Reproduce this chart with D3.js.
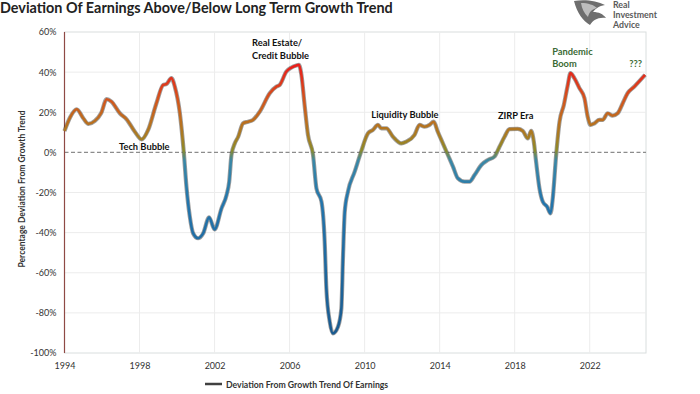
<!DOCTYPE html>
<html>
<head>
<meta charset="utf-8">
<script src="https://cdn.jsdelivr.net/npm/d3@7"></script>
<style>
  body { margin: 0; background: #fff; }
  svg { display: block; font-family: Lato, "Open Sans", sans-serif; }
</style>
</head>
<body>
<svg id="chart" width="700" height="394"></svg>
<script>
// decimal years and deviation (%)
const years = [1994.0, 1994.3, 1994.65, 1995.0, 1995.27, 1995.62, 1995.95, 1996.25, 1996.5, 1996.95, 1997.31, 1997.75,
  1998.11, 1998.46, 1998.9, 1999.26, 1999.44, 1999.7, 1999.88, 2000.15, 2000.36, 2000.5, 2000.68, 2000.86,
  2001.12, 2001.39, 2001.71, 2002.0, 2002.37, 2002.64, 2002.78, 2002.9, 2003.08, 2003.26, 2003.52, 2003.79,
  2004.05, 2004.41, 2004.94, 2005.3, 2005.47, 2005.83, 2006.1, 2006.36, 2006.5, 2006.63, 2006.8, 2006.98,
  2007.25, 2007.43, 2007.7, 2007.87, 2007.96, 2008.14, 2008.31, 2008.58, 2008.76, 2008.85, 2008.94, 2009.11,
  2009.47, 2009.8, 2010.18, 2010.44, 2010.71, 2010.89, 2011.16, 2011.51, 2011.95, 2012.22, 2012.66, 2012.93,
  2013.2, 2013.46, 2013.68, 2013.9, 2014.17, 2014.44, 2014.71, 2014.97, 2015.33, 2015.59, 2015.86, 2016.22,
  2016.57, 2016.92, 2017.19, 2017.46, 2017.72, 2018.16, 2018.43, 2018.7, 2018.88, 2019.02, 2019.14, 2019.32,
  2019.5, 2019.73, 2019.91, 2020.03, 2020.21, 2020.39, 2020.62, 2020.83, 2020.97, 2021.18, 2021.45, 2021.72,
  2021.89, 2022.04, 2022.25, 2022.51, 2022.69, 2022.96, 2023.22, 2023.49, 2023.76, 2024.02, 2024.38, 2024.95];
const values = [10.7, 17.5, 21.5, 17.0, 14.2, 15.7, 19.5, 26.5, 25.3, 19.5, 16.5, 10.3,
  6.5, 11.2, 24.5, 33.6, 34.1, 37.0, 32.8, 19.5, 0.0, -17.0, -32.0, -40.4,
  -42.8, -40.4, -32.4, -38.4, -27.9, -21.2, -14.6, -1.3, 4.5, 7.8, 14.5, 15.3,
  16.2, 20.3, 29.5, 32.8, 33.6, 40.3, 42.3, 43.3, 43.6, 38.6, 23.6, 8.7,
  -1.3, -17.9, -24.6, -44.5, -67.8, -84.4, -90.2, -86.9, -77.8, -51.2, -29.6, -19.6,
  -9.6, 0.0, 9.5, 11.2, 13.7, 12.0, 12.0, 7.8, 4.5, 5.3, 8.7, 13.7,
  12.8, 13.7, 15.3, 10.3, 4.5, -1.3, -7.1, -12.9, -14.6, -14.6, -11.3, -6.3,
  -3.8, -2.1, 2.8, 7.8, 11.6, 11.7, 10.7, 7.0, 10.7, 5.3, -4.6, -17.9,
  -24.6, -27.1, -30.4, -22.9, -1.3, 15.3, 23.6, 33.6, 39.5, 37.0, 32.0, 27.0,
  17.8, 13.7, 14.5, 16.2, 16.2, 19.5, 18.3, 19.5, 24.5, 29.5, 32.8, 38.6];

const yTicks = [-100, -80, -60, -40, -20, 0, 20, 40, 60];
const xTicks = [1994, 1998, 2002, 2006, 2010, 2014, 2018, 2022];

const notes = [
  { lines: ["Tech Bubble"], year: 1998.25, value: 1.0, anchor: "middle", color: "#111" },
  { lines: ["Real Estate/", "Credit Bubble"], year: 2004.0, value: 52.8, anchor: "start", color: "#111" },
  { lines: ["Liquidity Bubble"], year: 2012.15, value: 17.2, anchor: "middle", color: "#111" },
  { lines: ["ZIRP Era"], year: 2018.05, value: 16.5, anchor: "middle", color: "#111" },
  { lines: ["Pandemic", "Boom"], year: 2020.0, value: 48.5, anchor: "start", color: "#3b6b35" },
  { lines: ["???"], year: 2024.45, value: 42.7, anchor: "middle", color: "#3b6b35" }
];

const svg = d3.select("#chart");
const plotL = 64.5, plotR = 646, plotT = 32, plotB = 353;

const x = d3.scaleLinear().domain([1994, 2025]).range([plotL, plotR]);
const y = d3.scaleLinear().domain([-100, 60]).range([plotB, plotT]);

// plot frame + grid
svg.append("rect")
  .attr("x", plotL).attr("y", plotT)
  .attr("width", plotR - plotL).attr("height", plotB - plotT)
  .attr("fill", "none").attr("stroke", "#d9dede").attr("stroke-width", 1);

svg.append("g").selectAll("line")
  .data(yTicks.filter(d => d > -100 && d < 60 && d !== 0))
  .enter().append("line")
  .attr("x1", plotL).attr("x2", plotR)
  .attr("y1", d => y(d)).attr("y2", d => y(d))
  .attr("stroke", "#ececec");

svg.append("g").selectAll("line")
  .data(xTicks.slice(1))
  .enter().append("line")
  .attr("x1", d => x(d)).attr("x2", d => x(d))
  .attr("y1", plotT).attr("y2", plotB)
  .attr("stroke", "#ececec");

// zero line
svg.append("line")
  .attr("x1", plotL).attr("x2", plotR)
  .attr("y1", y(0)).attr("y2", y(0))
  .attr("stroke", "#8c8c8c").attr("stroke-width", 1.4)
  .attr("stroke-dasharray", "4,2.5");

// left axis line
svg.append("line")
  .attr("x1", plotL).attr("x2", plotL)
  .attr("y1", plotT).attr("y2", plotB)
  .attr("stroke", "#8f4a45").attr("stroke-width", 1.2);

// axes labels
const yAxis = svg.append("g")
  .attr("transform", `translate(${plotL - 8},0)`)
  .call(d3.axisLeft(y).tickValues(yTicks).tickSize(0).tickFormat(d => d + "%"));
yAxis.select(".domain").remove();
yAxis.selectAll("text").attr("font-family", "Lato, sans-serif").attr("font-size", 9)
  .attr("fill", "#333").attr("x", 0);

const xAxis = svg.append("g")
  .attr("transform", `translate(0,${plotB + 8})`)
  .call(d3.axisBottom(x).tickValues(xTicks).tickSize(0).tickFormat(d3.format("d")));
xAxis.select(".domain").remove();
xAxis.selectAll("text").attr("font-family", "Lato, sans-serif").attr("font-size", 9)
  .attr("fill", "#333").attr("dy", "0.6em");

// colour by level
const grad = svg.append("defs").append("linearGradient")
  .attr("id", "lvl").attr("gradientUnits", "userSpaceOnUse")
  .attr("x1", 0).attr("x2", 0).attr("y1", y(45)).attr("y2", y(-92));
const stops = [[45, "#ec1c1c"], [36, "#e0341c"], [26, "#d2561d"], [16, "#bc6e1f"], [7, "#a47e23"],
  [1, "#8b8a2b"], [-4, "#3a88a6"], [-25, "#2375ac"], [-92, "#1a5a8f"]];
grad.selectAll("stop").data(stops).enter().append("stop")
  .attr("offset", d => (y(d[0]) - y(45)) / (y(-92) - y(45)))
  .attr("stop-color", d => d[1]);

const pts = years.map((yr, i) => ({ yr, v: values[i] }));
const line = d3.line().x(d => x(d.yr)).y(d => y(d.v)).curve(d3.curveMonotoneX);

svg.append("path").datum(pts).attr("d", line)
  .attr("fill", "none").attr("stroke", "#2b2b2b").attr("stroke-opacity", 0.45)
  .attr("stroke-width", 4.2).attr("stroke-linejoin", "round");
svg.append("path").datum(pts).attr("d", line)
  .attr("fill", "none").attr("stroke", "url(#lvl)")
  .attr("stroke-width", 2.6).attr("stroke-linejoin", "round");

// annotations
notes.forEach(n => {
  const t = svg.append("text")
    .attr("x", x(n.year)).attr("y", y(n.value))
    .attr("text-anchor", n.anchor)
    .attr("font-size", 9.3).attr("font-weight", "bold").attr("fill", n.color);
  n.lines.forEach((s, i) => {
    t.append("tspan").attr("x", x(n.year)).attr("dy", i ? 12.4 : 0).text(s);
  });
});

// y axis title
svg.append("text")
  .attr("transform", "translate(25,189) rotate(-90)")
  .attr("text-anchor", "middle")
  .attr("font-size", 8.5).attr("font-weight", "bold").attr("fill", "#333")
  .text("Percentage Deviation From Growth Trend");

// title
svg.append("text")
  .attr("x", 0).attr("y", 13)
  .attr("font-size", 14.4).attr("font-weight", "bold").attr("fill", "#222")
  .text("Deviation Of Earnings Above/Below Long Term Growth Trend");

// legend
svg.append("line")
  .attr("x1", 205).attr("x2", 222).attr("y1", 384).attr("y2", 384)
  .attr("stroke", "#404040").attr("stroke-width", 2.5);
svg.append("text")
  .attr("x", 226).attr("y", 387.5)
  .attr("font-size", 8.7).attr("font-weight", "bold").attr("fill", "#333")
  .text("Deviation From Growth Trend Of Earnings");

// logo
const logo = svg.append("g");
logo.append("path")
  .attr("d", "M574,1 C585,-1 597,1 605,5 C599,6 595,9 593,12 C599,12 603,14 606,18 C598,17 593,20 590,25 C583,21 577,13 574,1 Z")
  .attr("fill", "#6e6e6e");
logo.append("path")
  .attr("d", "M581,3 C588,3 594,5 597,8 C592,9 589,12 588,17 C584,13 582,9 581,3 Z")
  .attr("fill", "#bdbdbd");
["Real", "Investment", "Advice"].forEach((s, i) => {
  logo.append("text")
    .attr("x", 613).attr("y", 7.5 + i * 10)
    .attr("font-size", 8.8).attr("font-weight", "bold").attr("fill", "#5a5a5a")
    .text(s);
});
</script>
</body>
</html>
